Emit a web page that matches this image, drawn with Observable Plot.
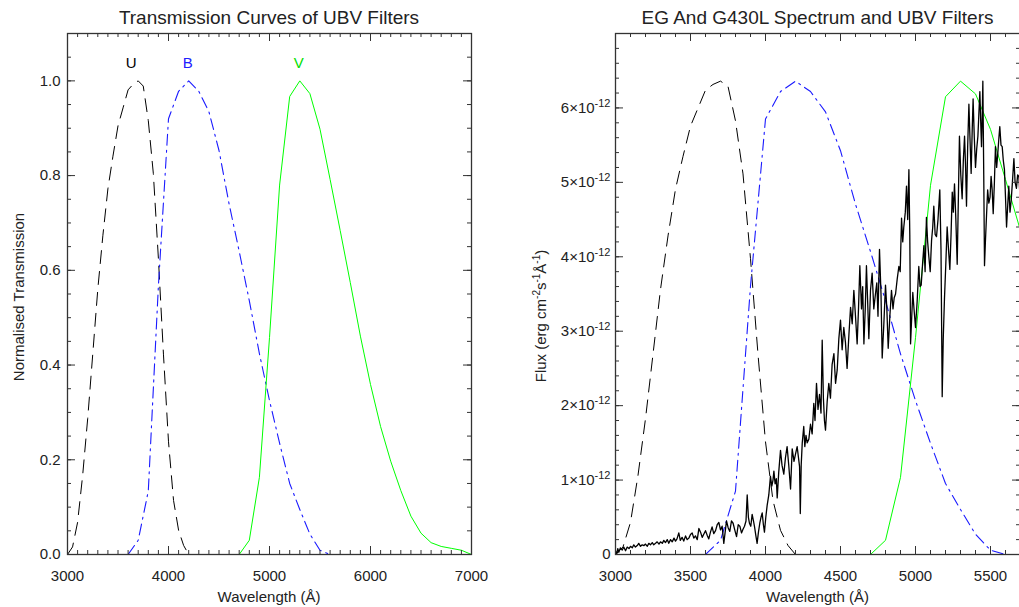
<!DOCTYPE html>
<html>
<head>
<meta charset="utf-8">
<script src="https://cdn.jsdelivr.net/npm/d3@7"></script>
<script src="https://cdn.jsdelivr.net/npm/@observablehq/plot@0.6"></script>
<style>
  body { margin: 0; background: #fff; }
  #wrap { position: relative; width: 1019px; height: 607px; overflow: hidden; background: #fff; }
  #wrap svg { position: absolute; top: 0; }
</style>
</head>
<body>
<div id="wrap"></div>
<script>
// ---------------- DATA ----------------
// Bessell UBV transmission curves (normalised)
const uWave  = [3000,3050,3100,3150,3200,3250,3300,3350,3400,3450,3500,3550,3600,3650,3700,3750,3800,3850,3900,3950,4000,4050,4100,4150,4200];
const uTrans = [0.000,0.016,0.068,0.167,0.287,0.423,0.560,0.673,0.772,0.841,0.905,0.943,0.981,0.993,1.000,0.989,0.916,0.804,0.625,0.423,0.238,0.114,0.051,0.019,0.000];
const bWave  = [3600,3700,3800,3900,4000,4100,4200,4300,4400,4500,4600,4700,4800,4900,5000,5100,5200,5300,5400,5500,5600];
const bTrans = [0.000,0.030,0.134,0.567,0.920,0.978,1.000,0.978,0.935,0.853,0.740,0.640,0.536,0.424,0.325,0.235,0.150,0.095,0.043,0.009,0.000];
const vWave  = [4700,4800,4900,5000,5100,5200,5300,5400,5500,5600,5700,5800,5900,6000,6100,6200,6300,6400,6500,6600,6700,6800,6900,7000];
const vTrans = [0.000,0.030,0.163,0.458,0.780,0.967,1.000,0.973,0.898,0.792,0.684,0.574,0.461,0.359,0.270,0.197,0.135,0.081,0.045,0.025,0.017,0.013,0.009,0.000];
const filterNames = ["U", "B", "V"];

// EG And G430L spectrum: [wavelength (Å), flux (units of 1e-12 erg cm^-2 s^-1 Å^-1)]
const spectrum = [
[3000,0.05],[3008,0.0],[3015,0.08],[3022,0.03],[3033,0.09],[3045,0.06],[3055,0.10],[3067,0.05],[3078,0.10],[3090,0.08],
[3100,0.11],[3112,0.09],[3122,0.13],[3133,0.10],[3145,0.12],[3155,0.15],[3167,0.11],[3178,0.13],[3190,0.12],[3200,0.14],
[3212,0.11],[3222,0.15],[3233,0.13],[3245,0.16],[3255,0.13],[3267,0.15],[3278,0.17],[3290,0.14],[3300,0.17],[3312,0.15],
[3322,0.19],[3333,0.16],[3345,0.20],[3355,0.15],[3367,0.20],[3378,0.17],[3390,0.22],[3400,0.18],[3410,0.21],[3422,0.29],
[3432,0.19],[3444,0.23],[3455,0.18],[3467,0.25],[3478,0.20],[3489,0.22],[3500,0.27],[3511,0.29],[3522,0.22],[3533,0.25],
[3545,0.20],[3556,0.35],[3567,0.30],[3578,0.23],[3590,0.28],[3600,0.32],[3611,0.26],[3622,0.21],[3633,0.30],[3644,0.37],
[3655,0.28],[3667,0.32],[3678,0.40],[3689,0.43],[3700,0.33],[3711,0.38],[3722,0.15],[3731,0.30],[3740,0.45],[3751,0.36],
[3762,0.31],[3773,0.45],[3784,0.42],[3795,0.33],[3807,0.24],[3818,0.40],[3829,0.38],[3840,0.29],[3850,0.34],[3860,0.38],
[3870,0.45],[3878,0.80],[3886,0.50],[3893,0.42],[3902,0.38],[3911,0.54],[3920,0.45],[3927,0.37],[3936,0.25],[3944,0.15],
[3953,0.30],[3962,0.42],[3970,0.50],[3978,0.56],[3986,0.40],[3993,0.30],[4002,0.50],[4011,0.66],[4022,0.80],[4033,1.05],
[4042,0.92],[4050,1.00],[4056,1.12],[4064,0.95],[4072,1.02],[4078,0.76],[4088,1.10],[4100,1.40],[4110,1.20],[4122,1.08],
[4133,1.30],[4144,1.45],[4155,1.20],[4167,0.88],[4178,1.42],[4190,1.25],[4200,1.35],[4211,1.45],[4220,1.30],[4227,1.18],
[4232,0.55],[4238,1.20],[4245,1.50],[4255,1.72],[4262,1.45],[4270,1.60],[4278,1.50],[4289,1.55],[4300,1.75],[4311,1.62],
[4322,2.03],[4330,1.80],[4340,2.30],[4350,1.95],[4360,2.15],[4370,1.90],[4378,2.88],[4386,2.10],[4393,1.80],[4400,1.67],
[4411,2.05],[4422,2.30],[4433,2.10],[4444,2.55],[4456,2.70],[4467,2.30],[4478,2.48],[4489,2.90],[4500,3.15],[4511,2.75],
[4522,3.05],[4533,2.85],[4544,2.50],[4556,2.95],[4567,3.32],[4578,3.10],[4589,3.55],[4600,3.20],[4611,2.83],[4620,3.30],
[4629,3.88],[4640,3.30],[4648,3.60],[4656,2.83],[4665,3.30],[4673,3.88],[4681,3.40],[4689,2.90],[4700,3.55],[4711,3.78],
[4722,3.30],[4733,3.50],[4742,3.65],[4750,3.20],[4760,4.10],[4770,3.50],[4778,2.64],[4789,3.10],[4800,3.62],[4809,3.30],
[4818,2.77],[4829,3.20],[4840,3.55],[4850,3.30],[4858,3.45],[4867,3.50],[4878,3.70],[4889,3.87],[4898,3.80],[4907,4.52],
[4915,4.20],[4922,4.40],[4932,4.60],[4940,4.95],[4948,4.50],[4956,5.17],[4962,4.30],[4967,2.83],[4975,3.20],[4982,3.52],
[4990,3.30],[5000,3.05],[5011,3.40],[5022,3.87],[5030,3.60],[5038,3.62],[5047,3.90],[5056,4.15],[5064,3.80],[5073,4.53],
[5081,4.20],[5089,4.00],[5098,3.80],[5107,4.22],[5115,4.40],[5122,4.68],[5131,4.30],[5140,4.27],[5150,4.50],[5162,4.90],
[5170,4.10],[5178,2.12],[5185,2.90],[5193,3.43],[5202,3.90],[5211,4.40],[5220,4.10],[5229,3.83],[5237,4.30],[5245,4.87],
[5252,4.60],[5260,4.98],[5269,4.50],[5278,3.90],[5285,4.70],[5293,5.62],[5302,5.10],[5311,4.78],[5319,5.30],[5327,5.62],
[5334,5.20],[5340,4.68],[5348,5.50],[5356,6.05],[5363,5.60],[5371,5.12],[5378,5.70],[5384,6.12],[5392,5.60],[5400,5.20],
[5408,5.45],[5416,5.62],[5422,5.90],[5429,6.22],[5435,5.80],[5440,5.48],[5445,5.90],[5449,6.36],[5455,5.10],[5460,3.88],
[5466,4.20],[5473,4.53],[5481,4.90],[5489,4.72],[5497,4.80],[5504,5.08],[5511,4.90],[5518,4.58],[5526,5.00],[5533,5.48],
[5541,5.20],[5549,5.40],[5556,5.60],[5562,5.75],[5570,5.50],[5578,5.48],[5585,5.30],[5593,5.17],[5600,4.80],[5607,4.40],
[5615,4.70],[5622,4.95],[5630,4.60],[5638,4.76],[5646,5.00],[5656,5.32],[5664,5.00],[5673,4.92],[5681,5.10],[5689,5.08],
[5697,4.80]
];

// tick values
const leftXMajor  = [3000, 4000, 5000, 6000, 7000];
const leftYMajor  = [0, 0.2, 0.4, 0.6, 0.8, 1.0];
const rightXMajor = [3000, 3500, 4000, 4500, 5000, 5500];
const rightYMajor = [0, 1, 2, 3, 4, 5, 6];   // ×1e-12

// ---------------- HELPERS ----------------
const FONT = '"Liberation Sans", Arial, Helvetica, sans-serif';
const INK = "#222";
const FRAME = "#333";
const H = 607, MT = 33, MB = 53;

const toRows = (w, t, k = 1) => w.map((x, i) => ({w: x, t: t[i] * k}));

function ticksBetween(lo, hi, step) {
  const n = Math.round((hi - lo) / step);
  return d3.range(n + 1).map(i => +(lo + i * step).toFixed(6));
}

function buildPanel(o) {
  const fw = o.width - o.marginLeft - o.marginRight;
  const fh = H - MT - MB;
  const maj = 8, min = 4;
  const ts = {stroke: FRAME, strokeWidth: 1};
  const xMinor = ticksBetween(o.xDomain[0], o.xDomain[1], o.xMinorStep);
  const yMinor = ticksBetween(o.yDomain[0], o.yDomain[1], o.yMinorStep);
  const xMaj = ticksBetween(o.xDomain[0], o.xDomain[1], o.xMajorStep);
  const yMaj = ticksBetween(o.yDomain[0], o.yDomain[1], o.yMajorStep);
  const marks = [
    ...o.lines,
    Plot.tickX(xMinor, {x: d => d, insetTop: fh - min, ...ts}),
    Plot.tickX(xMinor, {x: d => d, insetBottom: fh - min, ...ts}),
    Plot.tickX(xMaj, {x: d => d, insetTop: fh - maj, ...ts}),
    Plot.tickX(xMaj, {x: d => d, insetBottom: fh - maj, ...ts}),
    Plot.tickY(yMinor, {y: d => d, insetRight: fw - min, ...ts}),
    Plot.tickY(yMinor, {y: d => d, insetLeft: fw - min, ...ts}),
    Plot.tickY(yMaj, {y: d => d, insetRight: fw - maj, ...ts}),
    Plot.tickY(yMaj, {y: d => d, insetLeft: fw - maj, ...ts}),
    Plot.frame({stroke: FRAME, strokeWidth: 1.3}),
    Plot.axisX(o.xLabels, {tickSize: 0, tickPadding: 16, tickFormat: d => String(d), fontSize: 15, fill: INK, label: null}),
    Plot.axisY(o.yLabels, {tickSize: 0, tickPadding: o.yPad, tickFormat: o.yFormat, fontSize: 15, fill: INK, label: null})
  ];
  const svg = Plot.plot({
    width: o.width, height: H,
    marginLeft: o.marginLeft, marginRight: o.marginRight, marginTop: MT, marginBottom: MB,
    x: {domain: o.xDomain, label: null},
    y: {domain: o.yDomain, label: null},
    style: {fontFamily: FONT, fontSize: "15px", color: INK, background: "transparent", overflow: "visible"},
    marks
  });
  svg.style.left = o.left + "px";
  const s = d3.select(svg);
  const cx = o.marginLeft + fw / 2;
  // title
  s.append("text").attr("x", cx).attr("y", 23.5).attr("text-anchor", "middle")
    .attr("font-size", 19).attr("font-family", FONT).attr("fill", INK).text(o.title);
  // x label
  s.append("text").attr("x", cx).attr("y", 602).attr("text-anchor", "middle")
    .attr("font-size", 15).attr("font-family", FONT).attr("fill", INK).text("Wavelength (Å)");
  return {svg, s, fw, fh};
}

const wrap = document.getElementById("wrap");

// ---------------- LEFT PANEL ----------------
const U = toRows(uWave, uTrans), B = toRows(bWave, bTrans), V = toRows(vWave, vTrans);
const labelRows = [
  {name: filterNames[0], w: 3630, t: 1.038, c: "#000"},
  {name: filterNames[1], w: 4190, t: 1.038, c: "#2020ff"},
  {name: filterNames[2], w: 5290, t: 1.038, c: "#00e000"}
];
const left = buildPanel({
  left: 0, width: 500, marginLeft: 67, marginRight: 29,
  xDomain: [3000, 7000], yDomain: [0, 1.1],
  xMinorStep: 100, xMajorStep: 1000, yMinorStep: 0.05, yMajorStep: 0.2,
  xLabels: leftXMajor, yLabels: leftYMajor, yPad: 7, yFormat: d3.format(".1f"),
  title: "Transmission Curves of UBV Filters",
  lines: [
    Plot.line(U, {x: "w", y: "t", stroke: "#000", strokeWidth: 1, strokeDasharray: "13,8", clip: true}),
    Plot.line(B, {x: "w", y: "t", stroke: "#1a1aff", strokeWidth: 1.1, strokeDasharray: "11,5,2,5", clip: true}),
    Plot.line(V, {x: "w", y: "t", stroke: "#00ff00", strokeWidth: 1, clip: true}),
    Plot.text(labelRows, {x: "w", y: "t", text: "name", fill: "c", fontSize: 15})
  ]
});
left.s.append("text").attr("transform", "translate(23.5,297) rotate(-90)").attr("text-anchor", "middle")
  .attr("font-size", 15).attr("font-family", FONT).attr("fill", INK).text("Normalised Transmission");
wrap.appendChild(left.svg);

// ---------------- RIGHT PANEL ----------------
const specRows = spectrum.map(([w, f]) => ({w, f}));
const specMax = d3.max(spectrum, d => d[1]);
const U2 = toRows(uWave, uTrans, specMax), B2 = toRows(bWave, bTrans, specMax), V2 = toRows(vWave, vTrans, specMax);
const right = buildPanel({
  left: 500, width: 522, marginLeft: 115, marginRight: 2,
  xDomain: [3000, 5700], yDomain: [0, 7],
  xMinorStep: 100, xMajorStep: 500, yMinorStep: 0.2, yMajorStep: 1,
  xLabels: rightXMajor, yLabels: rightYMajor, yPad: 5,
  yFormat: d => d === 0 ? "0" : `${d}×10^-12`,
  title: "EG And G430L Spectrum and UBV Filters",
  lines: [
    Plot.line(U2, {x: "w", y: "t", stroke: "#000", strokeWidth: 1, strokeDasharray: "13,8", clip: true}),
    Plot.line(B2, {x: "w", y: "t", stroke: "#1a1aff", strokeWidth: 1.1, strokeDasharray: "11,5,2,5", clip: true}),
    Plot.line(V2, {x: "w", y: "t", stroke: "#00ff00", strokeWidth: 1, clip: true}),
    Plot.line(specRows, {x: "w", y: "f", stroke: "#000", strokeWidth: 1.3, clip: true})
  ]
});
// superscripts on y tick labels
right.s.selectAll('g[aria-label="y-axis tick label"] text').each(function() {
  const t = this.textContent;
  if (!t.includes("^")) return;
  const [base, sup] = t.split("^");
  const el = d3.select(this);
  el.text("");
  el.append("tspan").text(base);
  el.append("tspan").attr("dy", "-0.55em").attr("font-size", 11).text(sup);
});
// Flux label with superscripts
const fl = right.s.append("text").attr("transform", "translate(45.5,316) rotate(-90)").attr("text-anchor", "middle")
  .attr("font-size", 15).attr("font-family", FONT).attr("fill", INK);
[["Flux (erg cm", 0], ["-2", 1], ["s", 0], ["-1", 1], ["Å", 0], ["-1", 1], [")", 0]].forEach(([str, up], i, arr) => {
  const prevUp = i > 0 ? arr[i - 1][1] : 0;
  const ts = fl.append("tspan").text(str);
  if (up && !prevUp) ts.attr("dy", "-6").attr("font-size", 10);
  else if (!up && prevUp) ts.attr("dy", "6");
  else if (up) ts.attr("font-size", 10);
});
wrap.appendChild(right.svg);
</script>
</body>
</html>
